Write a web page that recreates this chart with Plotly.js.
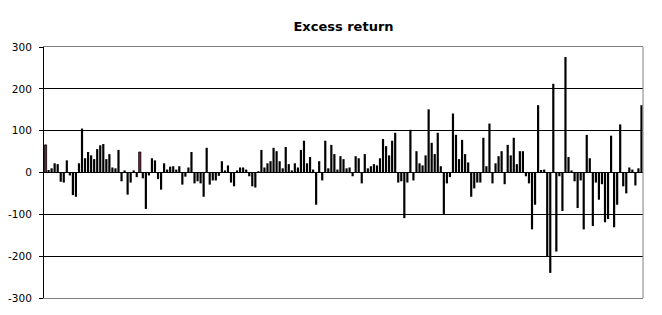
<!DOCTYPE html>
<html>
<head>
<meta charset="utf-8">
<script src="https://cdn.plot.ly/plotly-3.0.1.min.js"></script>
<style>html,body{margin:0;padding:0;background:#fff;}#chart{width:662px;height:315px;}</style>
</head>
<body>
<div id="chart"></div>
<script>
// Excess return per period
const seg1 = [66, 6, 10, 22, 20, -22, -24, 29, -7, -54, -58, 22, 105, 34, 49, 41, 32, 56, 65, 68, 32, 44, 12, 10, 54, -21, 5, -53, -24, 5, -11, 49];
const seg2 = [-14, -87, -7, 34, 29, -16, -41, 22, 7, 14, 15, 7, 15, -29, -10, 12, 49, -26, -21, -26, -58, 59, -29, -19, -19, -8, 27, 5, 17, -24, -33, 5, 12];
const seg3 = [12, 7, -9, -33, -36, 3, 54, 12, 22, 27, 59, 51, 27, 10, 61, 20, 5, 22, 12, 54, 76, 22, 37, 7, -77, 27, -19, 76, 10, 66, 44, 7, 39, 32];
const seg4 = [10, 12, -9, 39, 34, -26, 44, 10, 15, 20, 17, 34, 80, 63, 41, 76, 95, -24, -21, -109, -24, 102, -19, 51, 22, 17, 41, 151, 71, 44, 95, 15, -99];
const seg5 = [-26, -11, 141, 90, 32, 78, 44, 24, -58, -38, -24, -24, 83, 15, 117, -26, 22, 39, 51, -28, 66, 41, 83, 20, 51, 51, -9, -26, -136, -77, 161];
const seg6 = [6, 7, -202, -240, 212, -189, -9, -92, 276, 37, 5, -21, -85, -19, -136, 90, 34, -128, -24, -65, -28, -119, -111, 88, -131, -77, 115, -33, -50, 12, 7, -31, 10, 161];
const excessReturn = [].concat(seg1, seg2, seg3, seg4, seg5, seg6);
const periods = excessReturn.map((_, i) => i + 1);
const highlighted = [1, 32]; // periods drawn with a maroon fill
const yTicks = [-300, -200, -100, 0, 100, 200, 300];

const colors = periods.map(p => highlighted.includes(p) ? '#7a2040' : '#000000');
const outlineWidths = periods.map(p => highlighted.includes(p) ? 0.8 : 0);

const trace = {
  type: 'bar',
  x: periods,
  y: excessReturn,
  marker: {color: colors, line: {width: outlineWidths, color: '#000000'}},
  hoverinfo: 'x+y'
};

const layout = {
  width: 662,
  height: 315,
  margin: {l: 44, r: 19, t: 47, b: 17, pad: 0},
  paper_bgcolor: '#ffffff',
  plot_bgcolor: '#ffffff',
  showlegend: false,
  bargap: 0.28,
  title: {
    text: 'Excess return',
    font: {family: 'DejaVu Sans', size: 13, color: '#000', weight: 'bold'},
    x: 0.5, xref: 'paper', xanchor: 'center',
    y: 1 - 26 / 315, yref: 'container', yanchor: 'middle'
  },
  xaxis: {
    type: 'category',
    showticklabels: false,
    ticks: '',
    showgrid: false,
    zeroline: false,
    showline: true,
    mirror: true,
    linecolor: '#808080',
    linewidth: 1,
    fixedrange: true
  },
  yaxis: {
    range: [-300, 300],
    tickvals: yTicks,
    ticktext: yTicks.map(String),
    ticks: 'outside',
    ticklen: 4,
    tickcolor: '#000',
    tickwidth: 1,
    ticklabelstandoff: 5,
    tickfont: {family: 'DejaVu Sans', size: 10.5, color: '#000'},
    showgrid: true,
    gridcolor: '#000000',
    gridwidth: 1,
    zeroline: true,
    zerolinecolor: '#000000',
    zerolinewidth: 1,
    showline: true,
    linecolor: '#000000',
    linewidth: 1,
    fixedrange: true
  },
  shapes: [
    {type: 'line', xref: 'paper', yref: 'paper', x0: 1, x1: 1, y0: 0, y1: 1,
     line: {color: '#808080', width: 1}}
  ]
};

Plotly.newPlot('chart', [trace], layout, {displayModeBar: false, staticPlot: true});
</script>
</body>
</html>
